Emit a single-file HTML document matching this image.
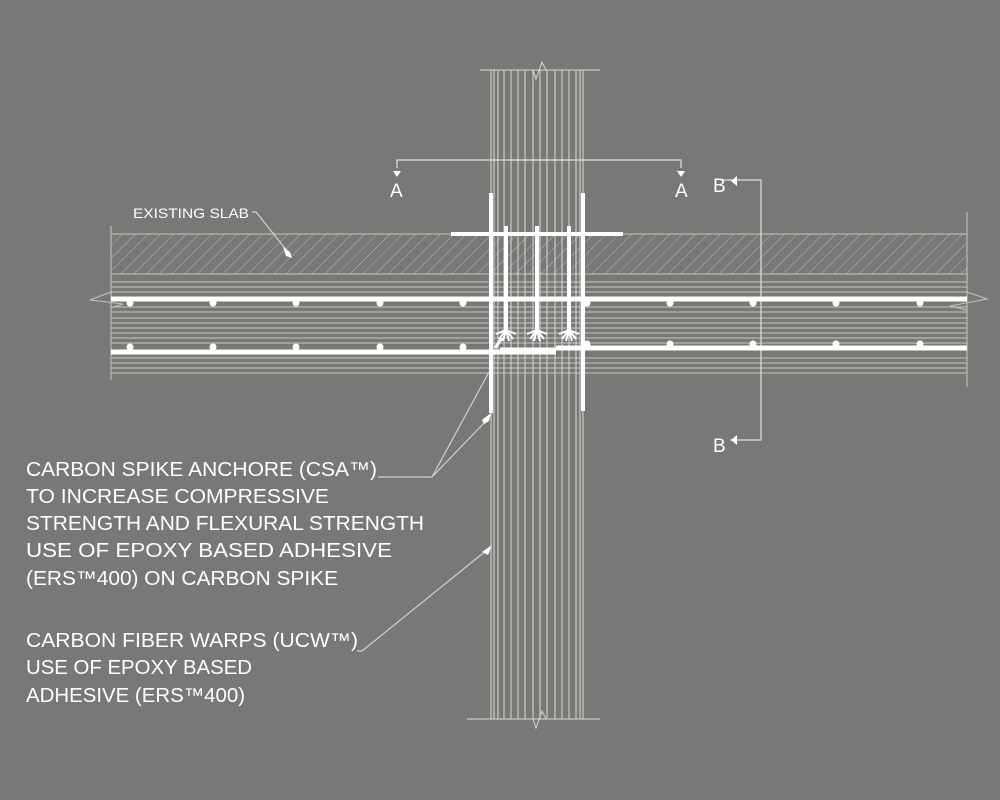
<!DOCTYPE html>
<html><head><meta charset="utf-8"><style>
html,body{margin:0;padding:0;background:#777976;}
svg{display:block}
text{font-family:"Liberation Sans",sans-serif;fill:#fff}
</style></head><body>
<svg width="1000" height="800" viewBox="0 0 1000 800" xmlns="http://www.w3.org/2000/svg">
<defs>
<pattern id="h" patternUnits="userSpaceOnUse" width="9" height="9" patternTransform="rotate(45)">
<line x1="0" y1="0" x2="0" y2="9" stroke="#c8cac6" stroke-width="0.8"/>
</pattern>
</defs>
<rect width="1000" height="800" fill="#777976"/>
<rect x="111" y="234" width="856" height="40" fill="url(#h)"/>
<g stroke="#c4c6c2" stroke-width="1">
<line x1="111" y1="234" x2="967" y2="234"/>
<line x1="111" y1="274" x2="967" y2="274"/>
<line x1="111" y1="282" x2="967" y2="282"/>
<line x1="111" y1="287" x2="967" y2="287"/>
<line x1="111" y1="292" x2="967" y2="292"/>
<line x1="111" y1="307" x2="967" y2="307"/>
<line x1="111" y1="312" x2="967" y2="312"/>
<line x1="111" y1="318" x2="967" y2="318"/>
<line x1="111" y1="323" x2="967" y2="323"/>
<line x1="111" y1="328" x2="967" y2="328"/>
<line x1="111" y1="333" x2="967" y2="333"/>
<line x1="111" y1="338" x2="967" y2="338"/>
<line x1="111" y1="343" x2="967" y2="343"/>
<line x1="111" y1="358" x2="967" y2="358"/>
<line x1="111" y1="363" x2="967" y2="363"/>
<line x1="111" y1="368" x2="967" y2="368"/>
<line x1="111" y1="373" x2="967" y2="373"/>
<line x1="111" y1="226" x2="111" y2="380"/>
<line x1="967" y1="212" x2="967" y2="387"/>
<polyline fill="none" points="111,292 90,300 123,304 111,308"/>
<polyline fill="none" points="967,292 987,299 950,306 967,310"/>
</g>
<g stroke="#d8dad6" stroke-width="1">
<line x1="491" y1="70" x2="491" y2="719"/>
<line x1="494" y1="70" x2="494" y2="719"/>
<line x1="498" y1="70" x2="498" y2="719"/>
<line x1="504" y1="70" x2="504" y2="719"/>
<line x1="511" y1="70" x2="511" y2="719"/>
<line x1="518" y1="70" x2="518" y2="719"/>
<line x1="525" y1="70" x2="525" y2="719"/>
<line x1="533" y1="70" x2="533" y2="719"/>
<line x1="540" y1="70" x2="540" y2="719"/>
<line x1="547" y1="70" x2="547" y2="719"/>
<line x1="555" y1="70" x2="555" y2="719"/>
<line x1="562" y1="70" x2="562" y2="719"/>
<line x1="569" y1="70" x2="569" y2="719"/>
<line x1="576" y1="70" x2="576" y2="719"/>
<line x1="580" y1="70" x2="580" y2="719"/>
<line x1="583" y1="70" x2="583" y2="719"/>
<line x1="480" y1="70" x2="600" y2="70"/>
<polyline fill="none" points="533,70 536,79 542,62 546,70"/>
<line x1="467" y1="719" x2="600" y2="719"/>
<polyline fill="none" points="533,719 536,728 542,711 546,719"/>
</g>
<g stroke="#e0e2de" stroke-width="1.2" fill="none">
<polyline points="397,168 397,160 681,160 681,168"/>
<polyline points="721,180 761,180 761,440 730,440"/>
</g>
<polygon points="393,171 401,171 397,177" fill="#fff"/>
<polygon points="677,171 685,171 681,177" fill="#fff"/>
<polygon points="737,176 737,186 731,181" fill="#fff"/>
<polygon points="737,435 737,445 731,440" fill="#fff"/>
<text x="390" y="197" font-size="19">A</text>
<text x="675" y="197" font-size="19">A</text>
<text x="713" y="192" font-size="19">B</text>
<text x="713" y="452" font-size="19">B</text>
<g stroke="#fff">
<line x1="111" y1="299" x2="967" y2="299" stroke-width="5"/>
<line x1="111" y1="352" x2="556" y2="352" stroke-width="5"/>
<line x1="556" y1="348" x2="967" y2="348" stroke-width="5"/>
<line x1="500" y1="350" x2="556" y2="350" stroke-width="5"/>
<line x1="451" y1="234" x2="623" y2="234" stroke-width="4"/>
<line x1="491" y1="193" x2="491" y2="413" stroke-width="4"/>
<line x1="583" y1="193" x2="583" y2="411" stroke-width="4"/>
<line x1="506" y1="226" x2="506" y2="330" stroke-width="4"/>
<line x1="537" y1="226" x2="537" y2="330" stroke-width="4"/>
<line x1="569" y1="226" x2="569" y2="330" stroke-width="4"/>
<line x1="502" y1="338" x2="495" y2="348" stroke-width="3"/>
</g>
<g stroke="#fff" stroke-width="2">
<path d="M506,330 L496,334 M506,330 L499,339 M506,330 L503,341 M506,330 L509,341 M506,330 L513,339 M506,330 L516,334"/>
<path d="M537,330 L527,334 M537,330 L530,339 M537,330 L534,341 M537,330 L540,341 M537,330 L544,339 M537,330 L547,334"/>
<path d="M569,330 L559,334 M569,330 L562,339 M569,330 L566,341 M569,330 L572,341 M569,330 L576,339 M569,330 L579,334"/>
</g>
<g fill="#fff">
<circle cx="130" cy="303" r="3.5"/><circle cx="213" cy="303" r="3.5"/><circle cx="296" cy="303" r="3.5"/><circle cx="380" cy="303" r="3.5"/><circle cx="463" cy="303" r="3.5"/><circle cx="587" cy="303" r="3.5"/><circle cx="670" cy="303" r="3.5"/><circle cx="753" cy="303" r="3.5"/><circle cx="836" cy="303" r="3.5"/><circle cx="920" cy="303" r="3.5"/>
<circle cx="130" cy="347" r="3.5"/><circle cx="213" cy="347" r="3.5"/><circle cx="296" cy="347" r="3.5"/><circle cx="380" cy="347" r="3.5"/><circle cx="463" cy="347" r="3.5"/><circle cx="587" cy="344" r="3.5"/><circle cx="670" cy="344" r="3.5"/><circle cx="753" cy="344" r="3.5"/><circle cx="836" cy="344" r="3.5"/><circle cx="920" cy="344" r="3.5"/>
</g>
<g stroke="#d0d2ce" stroke-width="1.2" fill="none">
<polyline points="252,212 256,212 288,252"/>
<polyline points="378,477 432,477 489,372"/>
<line x1="432" y1="477" x2="486" y2="421"/>
<polyline points="357,651 362,651 487,550"/>
</g>
<polygon points="283,247 290,252 292,258 286,256" fill="#fff"/>
<polygon points="482,420 491,413 489,421 484,424" fill="#fff"/>
<polygon points="482,552 492,545 488,555" fill="#fff"/>
<text x="133" y="218" font-size="14" textLength="116" lengthAdjust="spacingAndGlyphs">EXISTING SLAB</text>
<g font-size="20">
<text x="26" y="476" textLength="351" lengthAdjust="spacingAndGlyphs">CARBON SPIKE ANCHORE (CSA™)</text>
<text x="26" y="503" textLength="303" lengthAdjust="spacingAndGlyphs">TO INCREASE  COMPRESSIVE</text>
<text x="26" y="530" textLength="398" lengthAdjust="spacingAndGlyphs">STRENGTH AND FLEXURAL STRENGTH</text>
<text x="26" y="557" textLength="366" lengthAdjust="spacingAndGlyphs">USE OF EPOXY BASED ADHESIVE</text>
<text x="26" y="585" textLength="312" lengthAdjust="spacingAndGlyphs">(ERS™400) ON CARBON SPIKE</text>
<text x="26" y="647" textLength="332" lengthAdjust="spacingAndGlyphs">CARBON FIBER WARPS (UCW™)</text>
<text x="26" y="674" textLength="226" lengthAdjust="spacingAndGlyphs">USE OF EPOXY BASED</text>
<text x="26" y="702" textLength="219" lengthAdjust="spacingAndGlyphs">ADHESIVE (ERS™400)</text>
</g>
</svg>
</body></html>
